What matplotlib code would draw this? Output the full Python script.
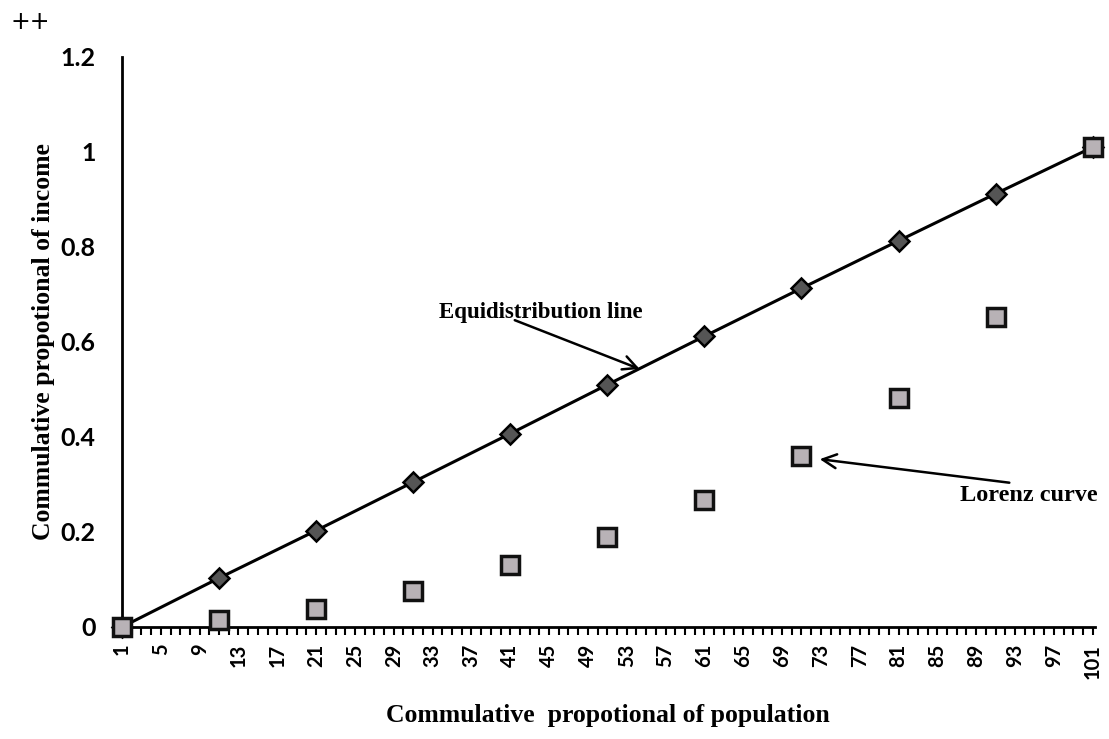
import matplotlib
matplotlib.use("Agg")
import matplotlib.pyplot as plt
from matplotlib.ticker import MultipleLocator, FixedLocator

# Data
population = [1, 11, 21, 31, 41, 51, 61, 71, 81, 91, 101]
equidistribution = [0.0, 0.103, 0.203, 0.305, 0.407, 0.51, 0.612, 0.713, 0.813, 0.912, 1.01]
lorenz = [0.0, 0.015, 0.038, 0.076, 0.13, 0.19, 0.267, 0.36, 0.482, 0.653, 1.01]
x_tick_labels = list(range(1, 102, 4))
y_ticks = [0, 0.2, 0.4, 0.6, 0.8, 1.0, 1.2]
y_tick_labels = ["0", "0.2", "0.4", "0.6", "0.8", "1", "1.2"]

fig = plt.figure(figsize=(11.09, 7.39), dpi=100)
ax = fig.add_axes([0.110, 0.1516, 0.877, 0.7713])

ax.plot(population, equidistribution, color="black", lw=2.2,
        marker="D", markersize=10, markerfacecolor="#555555",
        markeredgecolor="black", markeredgewidth=1.8, zorder=3, clip_on=False)
ax.plot(population, lorenz, linestyle="none", marker="s", markersize=13,
        markerfacecolor="#b8b2b6", markeredgecolor="#111111",
        markeredgewidth=2.5, zorder=4, clip_on=False)

ax.set_xlim(1, 101.2)
ax.set_ylim(0, 1.2)

for s in ["top", "right"]:
    ax.spines[s].set_visible(False)
ax.spines["left"].set_linewidth(2)
ax.spines["bottom"].set_linewidth(2)

ax.xaxis.set_major_locator(FixedLocator(x_tick_labels))
ax.xaxis.set_minor_locator(MultipleLocator(1))
ax.set_xticklabels([str(v) for v in x_tick_labels], rotation=90,
                   fontsize=14.5, fontweight="bold", family="Lato")
ax.tick_params(axis="x", which="both", direction="out", length=6, width=1.5, pad=6)
ax.set_yticks(y_ticks)
ax.set_yticklabels(y_tick_labels, fontsize=18, fontweight="bold", family="Lato")
ax.tick_params(axis="y", length=0, pad=19)

ax.set_xlabel("Commulative  propotional of population", fontsize=18.5,
              fontweight="bold", family="Liberation Serif", labelpad=18)
ax.set_ylabel("Commulative propotional of income", fontsize=18.5,
              fontweight="bold", family="Liberation Serif", labelpad=4)

# Annotations
ax.annotate("", xy=(54.6, 0.541), xytext=(41.2, 0.648),
            arrowprops=dict(arrowstyle="->", lw=1.8, color="black", mutation_scale=25))
ax.text(44.2, 0.663, "Equidistribution line", ha="center", va="center",
        fontsize=16.5, family="Liberation Serif", fontweight="bold")
ax.annotate("", xy=(72.6, 0.354), xytext=(92.7, 0.303),
            arrowprops=dict(arrowstyle="->", lw=1.8, color="black", mutation_scale=25))
ax.text(94.4, 0.276, "Lorenz curve", ha="center", va="center",
        fontsize=17.5, family="Liberation Serif", fontweight="bold")

fig.text(0.027, 0.970, "++", fontsize=17, ha="center", va="center", family="DejaVu Sans")

fig.savefig("out.png", dpi=100)
